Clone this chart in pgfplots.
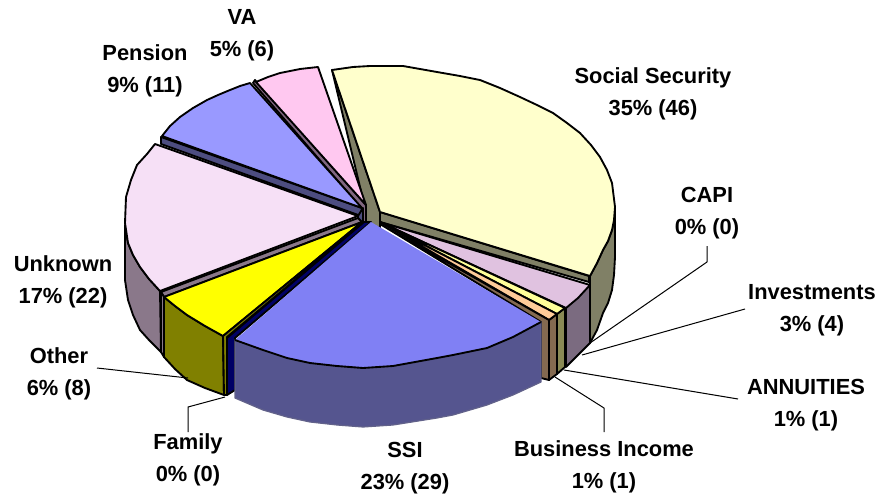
\documentclass[border=0pt]{standalone}
\usepackage{pgfplots}
\pgfplotsset{compat=1.18}
\usepackage{fontspec}
\setmainfont{Liberation Sans}
\definecolor{ssTop}{HTML}{FFFFCC}
\definecolor{ssWall}{HTML}{808066}
\definecolor{capiTop}{HTML}{E0C2E0}
\definecolor{capiSide}{HTML}{7B6B80}
\definecolor{annTop}{HTML}{FFFF99}
\definecolor{annSide}{HTML}{8A8A55}
\definecolor{bizTop}{HTML}{FFCC99}
\definecolor{bizSide}{HTML}{846A50}
\definecolor{ssiTop}{HTML}{8080F4}
\definecolor{ssiSide}{HTML}{55558F}
\definecolor{famSide}{HTML}{000066}
\definecolor{othTop}{HTML}{FFFF00}
\definecolor{othSide}{HTML}{808000}
\definecolor{unkTop}{HTML}{F6E0F6}
\definecolor{unkSide}{HTML}{8A788A}
\definecolor{penTop}{HTML}{9999FF}
\definecolor{penSide}{HTML}{4D4D80}
\definecolor{vaTop}{HTML}{FFC8F0}
\definecolor{vaSide}{HTML}{806680}
\tikzset{
  lab/.style={font=\fontsize{16.4}{24}\selectfont\bfseries, align=center, text=black, inner sep=0pt},
}
\begin{document}
\begin{tikzpicture}
\path[use as bounding box] (0,0) rectangle (659.25pt,372.75pt);
\begin{axis}[
  at={(0,0)}, anchor=south west,
  scale only axis,
  width=659.25pt, height=372.75pt,
  xmin=0, xmax=879, ymin=0, ymax=497,
  y dir=reverse,
  hide axis,
  clip=false,
  every axis plot/.append style={draw=black, line width=1.4pt, line join=round},
]
% outer sides, back to front
\addplot[fill=ssWall] coordinates {(615,207) (614,220) (612,230) (608,241) (603,250) (597,263) (590,276) (590,343) (597,330) (603,313) (608,303) (612,290) (614,275) (615,257)} --cycle;
\addplot[fill=unkSide] coordinates {(125,225) (128,243) (133,255) (140,267) (149,279) (160,291) (161,352) (149,340) (140,330) (133,315) (128,300) (125,280)} --cycle;
% Social Security
\addplot[fill=ssWall] coordinates {(332,70) (380,212) (380,228) (366,225) (366,212)} --cycle;
\addplot[fill=ssWall] coordinates {(380,212) (589,276) (589,282) (380,222)} --cycle;
\addplot[fill=ssTop] coordinates {(332,70) (353,67) (370,66) (403,66) (437,72) (460,76) (480,80) (500,88) (520,97) (537,105) (553,113) (567,123) (580,133) (591,145) (600,157) (607,170) (612,183) (615,207) (614,220) (612,230) (608,241) (603,250) (597,263) (590,276) (380,212)} --cycle;
% VA
\addplot[fill=vaSide] coordinates {(253,83) (255,80) (366,205) (366,224) (363,224) (363,210)} --cycle;
\addplot[fill=vaTop] coordinates {(256,82) (268,77) (280,73) (300,69) (318,67) (366,205)} --cycle;
% Pension
\addplot[fill=penSide] coordinates {(161,137) (161,144) (361,216) (362,208)} --cycle;
\addplot[fill=penTop] coordinates {(162,136) (170,126) (180,117) (193,108) (207,100) (218,95) (230,90) (240,86) (250,83) (362,208)} --cycle;
\addplot[fill=penSide] coordinates {(358,216) (363,208) (363,222) (358,222)} --cycle;
% Unknown
\addplot[fill=unkTop] coordinates {(155,144) (147,154) (137,165) (131,180) (126,197) (125,223) (128,243) (133,255) (140,267) (149,279) (160,291) (358,216)} --cycle;
\addplot[fill=unkSide] coordinates {(161,292) (358,218) (362,222) (164,297)} --cycle;
\addplot[fill=unkSide] coordinates {(161,292) (164,297) (164,357) (161,352)} --cycle;
% Other
\addplot[fill=othSide] coordinates {(164,297) (175,306) (187,315) (205,326) (223,336) (224,395) (205,388) (187,380) (175,369) (164,357)} --cycle;
\addplot[fill=othTop] coordinates {(164,297) (362,222) (223,336) (205,326) (187,315) (175,306)} --cycle;
\addplot[fill=othSide] coordinates {(223,336) (362,222) (364,222) (227,337) (227,395) (224,395)} --cycle;
% Family
\addplot[fill=famSide] coordinates {(227,338) (364,222) (371,222) (235,338) (235,390) (227,395)} --cycle;
% Investments, CAPI, Annuities, Business Income
\addplot[fill=capiSide] coordinates {(590,285) (566,308) (566,367) (590,343)} --cycle;
\addplot[fill=capiTop] coordinates {(380,222) (590,285) (578,298) (566,308)} --cycle;
\addplot[fill=annSide] coordinates {(557,314) (565,308) (565,367) (557,374)} --cycle;
\addplot[fill=annTop] coordinates {(380,222) (565,308) (557,314)} --cycle;
\addplot[fill=bizSide] coordinates {(549,320) (557,314) (557,374) (549,380)} --cycle;
\addplot[fill=bizTop] coordinates {(380,222) (557,314) (549,320)} --cycle;
\addplot[fill=bizSide] coordinates {(380,224) (549,320) (549,380) (541,378) (541,322)} --cycle;
% SSI
\addplot[fill=ssiSide, draw=ssiSide!70!gray, line width=0.9pt] coordinates {(235,340) (263,350) (287,358) (310,363) (337,366) (363,368) (393,366) (437,358) (453,355) (487,348) (513,337) (541,322) (541,382) (513,395) (487,405) (453,415) (437,418) (393,425) (363,427) (337,425) (310,422) (287,417) (263,410) (235,398)} --cycle;
\addplot[fill=ssiTop, draw=none] coordinates {(371,222) (541,322) (513,337) (487,348) (453,355) (437,358) (393,366) (363,368) (337,366) (310,363) (287,358) (263,350) (235,340)} --cycle;
\addplot[draw=black] coordinates {(541,322) (513,337) (487,348) (453,355) (437,358) (393,366) (363,368) (337,366) (310,363) (287,358) (263,350) (235,340)};
% leader lines
\addplot[line width=0.75pt] coordinates {(707,246) (707,262) (590,343)};
\addplot[line width=0.75pt] coordinates {(745,309) (582,355)};
\addplot[line width=0.75pt] coordinates {(738,399) (564,370)};
\addplot[line width=0.75pt] coordinates {(604,432) (604,408) (555,377)};
\addplot[line width=0.75pt] coordinates {(97,368) (188,378)};
\addplot[line width=0.75pt] coordinates {(188,432) (188,407) (225,397)};
% labels
\node[lab] at (axis cs:653,94) {Social Security\\35\% (46)};
\node[lab] at (axis cs:242,35) {VA\\5\% (6)};
\node[lab] at (axis cs:145,71) {Pension\\9\% (11)};
\node[lab] at (axis cs:63,282) {Unknown\\17\% (22)};
\node[lab] at (axis cs:59,374) {Other\\6\% (8)};
\node[lab] at (axis cs:188,460) {Family\\0\% (0)};
\node[lab] at (axis cs:405,468) {SSI\\23\% (29)};
\node[lab] at (axis cs:604,467) {Business Income\\1\% (1)};
\node[lab] at (axis cs:806,405) {ANNUITIES\\1\% (1)};
\node[lab] at (axis cs:812,310) {Investments\\3\% (4)};
\node[lab] at (axis cs:707,213) {CAPI\\0\% (0)};
\end{axis}
\end{tikzpicture}
\end{document}
